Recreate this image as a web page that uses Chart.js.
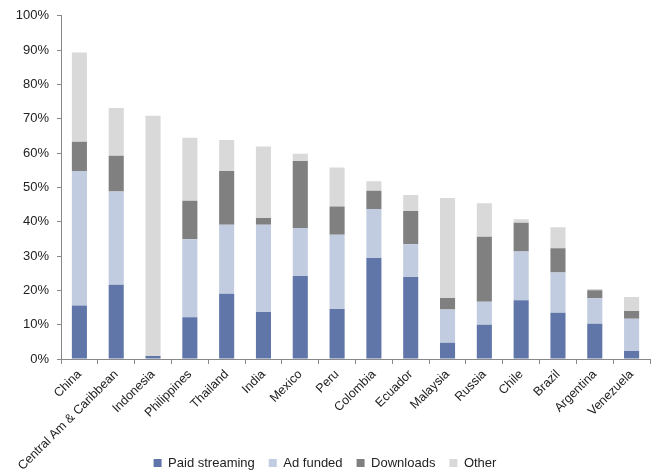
<!DOCTYPE html>
<html>
<head>
<meta charset="utf-8">
<script src="https://cdn.jsdelivr.net/npm/chart.js@4/dist/chart.umd.min.js"></script>
<style>
  html, body { margin: 0; padding: 0; background: #fff; }
  #wrap { width: 657px; height: 474px; position: relative; }
</style>
</head>
<body>
<div id="wrap"><canvas id="chart"></canvas></div>
<script>
// Chart data (share of listening, %)
const countries = ['China', 'Central Am & Caribbean', 'Indonesia', 'Philippines', 'Thailand', 'India', 'Mexico', 'Peru',
  'Colombia', 'Ecuador', 'Malaysia', 'Russia', 'Chile', 'Brazil', 'Argentina', 'Venezuela'];
const paidStreaming = [15.6, 21.6, 0.9, 12.2, 19.0, 13.7, 24.2, 14.6, 29.4, 23.9, 4.7, 10.0, 17.1, 13.5, 10.3, 2.3];
const adFunded      = [39.2, 27.2, 0.0, 22.7, 20.1, 25.4, 14.0, 21.6, 14.3, 9.5, 9.7, 6.7, 14.2, 11.7, 7.4, 9.4];
const downloads     = [8.5, 10.4, 0.0, 11.2, 15.7, 2.0, 19.5, 8.2, 5.3, 9.7, 3.4, 18.9, 8.4, 7.1, 2.3, 2.3];
const other         = [26.0, 13.9, 70.0, 18.4, 9.0, 20.8, 2.1, 11.4, 2.8, 4.7, 29.1, 9.8, 1.0, 6.1, 0.4, 4.1];

const FONT = 'Liberation Sans';
const TEXT = '#222';
const AXIS = '#888';
const LEGEND_PAD = 14;

function series(label, data, color) {
    return {
        label: label,
        data: data,
        backgroundColor: color,
        borderWidth: 0,
        barPercentage: 0.41,
        categoryPercentage: 1.0
    };
}

// Long rotated labels run down past the legend row (as in the original),
// so let the x axis label area reach the canvas bottom and put the legend row at the bottom edge
const layoutTweak = {
    id: 'layoutTweak',
    afterLayout(chart) {
        chart.scales.x.bottom = chart.height;
        const lg = chart.legend;
        const h = lg.bottom - lg.top;
        lg.top = 463 - 6.5 - LEGEND_PAD;
        lg.bottom = lg.top + h;
    }
};

const ctx = document.getElementById('chart').getContext('2d');
new Chart(ctx, {
    type: 'bar',
    data: {
        labels: countries,
        datasets: [
            series('Paid streaming', paidStreaming, '#6076a9'),
            series('Ad funded', adFunded, '#c1cce0'),
            series('Downloads', downloads, '#808080'),
            series('Other', other, '#d9d9d9')
        ]
    },
    options: {
        responsive: true,
        maintainAspectRatio: false,
        animation: false,
        layout: { padding: { left: 0, right: 7, top: 8, bottom: 0 } },
        plugins: {
            legend: {
                position: 'bottom',
                labels: {
                    boxWidth: 8,
                    boxHeight: 8,
                    padding: LEGEND_PAD,
                    color: TEXT,
                    font: { family: FONT, size: 13 }
                }
            },
            tooltip: { enabled: false }
        },
        scales: {
            x: {
                stacked: true,
                grid: { display: true, drawOnChartArea: false, drawTicks: true, tickLength: 5, color: AXIS },
                border: { display: true, color: AXIS },
                ticks: {
                    color: TEXT,
                    font: { family: FONT, size: 12.5 },
                    minRotation: 45,
                    maxRotation: 45,
                    padding: 3,
                    autoSkip: false
                },
                afterFit: (scale) => { scale.height = 78; }
            },
            y: {
                stacked: true,
                min: 0,
                max: 100,
                grid: { display: true, drawOnChartArea: false, drawTicks: true, tickLength: 4, color: AXIS },
                border: { display: true, color: AXIS },
                ticks: {
                    stepSize: 10,
                    padding: 8,
                    color: TEXT,
                    font: { family: FONT, size: 13 },
                    callback: (v) => v + '%'
                },
                afterFit: (scale) => { scale.width = 61; }
            }
        }
    },
    plugins: [layoutTweak]
});
</script>
</body>
</html>
